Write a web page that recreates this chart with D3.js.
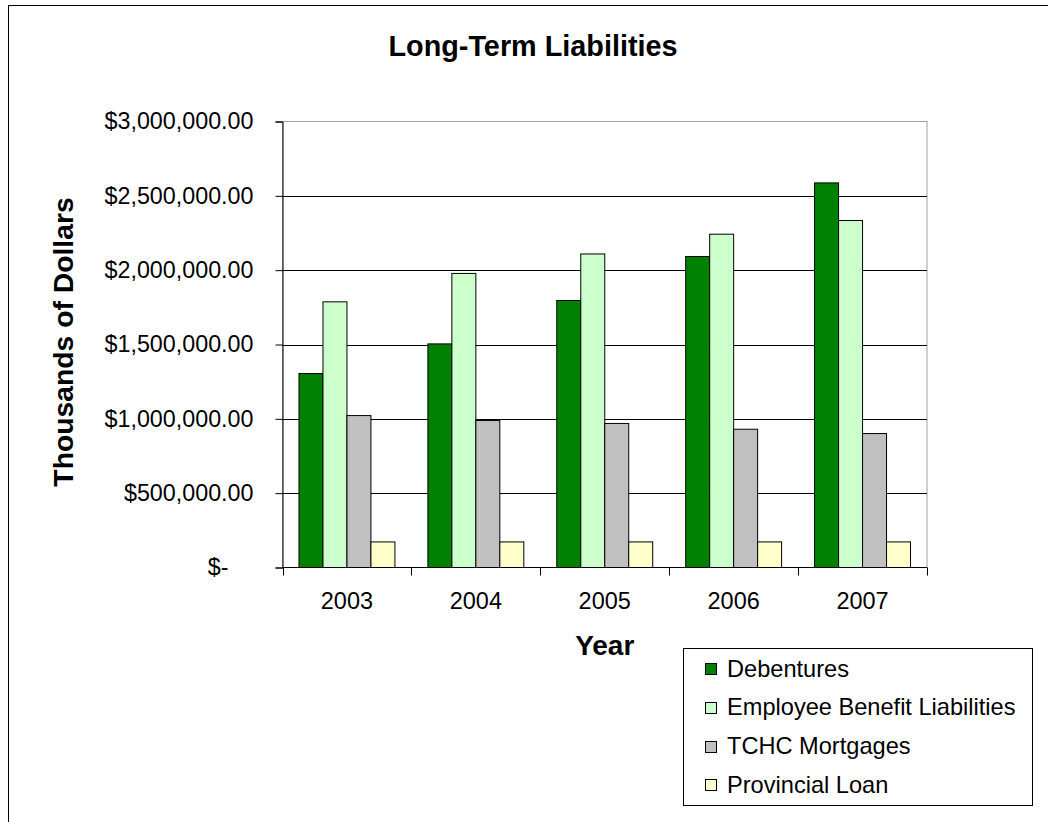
<!DOCTYPE html>
<html><head><meta charset="utf-8">
<script src="https://cdn.jsdelivr.net/npm/d3@7"></script>
<style>
html,body{margin:0;padding:0;background:#fff;}
svg{display:block;font-family:"Liberation Sans",Arial,sans-serif;}
</style></head>
<body>
<svg id="c" width="1048" height="822"></svg>
<script>
const years = ["2003","2004","2005","2006","2007"];
const seriesNames = ["Debentures","Employee Benefit Liabilities","TCHC Mortgages","Provincial Loan"];
const debentures = [1305000,1504000,1796000,2092000,2587000];
const employeeBenefit = [1787000,1978000,2109000,2242000,2334000];
const tchcMortgages = [1022000,989000,969000,930000,901000];
const provincialLoan = [172000,172000,172000,172000,172000];
const yTicks = [0,500000,1000000,1500000,2000000,2500000,3000000];
const colors = ["#008000","#CCFFCC","#C0C0C0","#FFFFCC"];

const seriesValues = [debentures, employeeBenefit, tchcMortgages, provincialLoan];
const svg = d3.select("#c");

// outer chart border
svg.append("rect").attr("x",8.5).attr("y",5.5).attr("width",1100).attr("height",900)
  .attr("fill","none").attr("stroke","#000").attr("stroke-width",1);

const L=282.5, R=927, T=121.5, B=567.5;
const x0 = d3.scaleBand().domain(years).range([L,R]).padding(0);
const x1 = d3.scaleBand().domain(seriesNames).range([0,x0.bandwidth()]).paddingInner(0).paddingOuter(0.6875);
const y = d3.scaleLinear().domain([0,3000000]).range([B,T]);

// plot area border (gray)
svg.append("rect").attr("x",L).attr("y",T).attr("width",R-L).attr("height",B-T)
  .attr("fill","#fff").attr("stroke","#a0a0a0").attr("stroke-width",1);

// gridlines
svg.append("g").selectAll("line").data(yTicks.filter(d=>d>0 && d<3000000)).join("line")
  .attr("x1",L).attr("x2",R).attr("y1",d=>Math.round(y(d))+0.5).attr("y2",d=>Math.round(y(d))+0.5)
  .attr("stroke","#000").attr("stroke-width",1);

// bars
const g = svg.append("g");
years.forEach((yr,i)=>{
  seriesNames.forEach((s,j)=>{
    const v = seriesValues[j][i];
    g.append("rect")
      .attr("x",x0(yr)+x1(s)).attr("width",x1.bandwidth())
      .attr("y",y(v)).attr("height",y(0)-y(v))
      .attr("fill",colors[j]).attr("stroke","#000").attr("stroke-width",1);
  });
});

// y axis
const fmt = d => d===0 ? "$-" : "$" + d3.format(",.2f")(d);
const yAxis = d3.axisLeft(y).tickValues(yTicks).tickFormat(fmt).tickSize(7).tickPadding(22);
const ya = svg.append("g").attr("transform",`translate(${L},0)`).call(yAxis);
ya.select(".domain").attr("stroke","#000");
ya.selectAll(".tick line").attr("stroke","#000");
ya.selectAll(".tick text").attr("font-size",23.3).attr("fill","#000")
  .attr("font-family","'Liberation Sans',Arial,sans-serif")
  .attr("dx",d=>d===0?-25:0);

// x axis
const xa = svg.append("g").attr("transform",`translate(0,${B})`);
xa.append("line").attr("x1",L).attr("x2",R).attr("y1",0).attr("y2",0).attr("stroke","#000");
const bounds = years.map(d=>x0(d)).concat([R]);
xa.selectAll("line.tk").data(bounds).join("line").attr("class","tk")
  .attr("x1",d=>Math.round(d)+0.5).attr("x2",d=>Math.round(d)+0.5).attr("y1",0).attr("y2",8).attr("stroke","#000");
xa.selectAll("text").data(years).join("text")
  .attr("x",d=>x0(d)+x0.bandwidth()/2).attr("y",41)
  .attr("text-anchor","middle").attr("font-size",23.5).text(d=>d);

// titles
svg.append("text").attr("x",533).attr("y",56).attr("text-anchor","middle")
  .attr("font-size",28.8).attr("font-weight","bold").text("Long-Term Liabilities");
svg.append("text").attr("transform","translate(73,342) rotate(-90)").attr("text-anchor","middle")
  .attr("font-size",28.3).attr("font-weight","bold").text("Thousands of Dollars");
svg.append("text").attr("x",(L+R)/2).attr("y",655).attr("text-anchor","middle")
  .attr("font-size",28).attr("font-weight","bold").text("Year");

// legend
const lg = svg.append("g");
lg.append("rect").attr("x",683.5).attr("y",648.5).attr("width",349).attr("height",157)
  .attr("fill","#fff").attr("stroke","#000").attr("stroke-width",1);
seriesNames.forEach((s,j)=>{
  const cy = 668 + j*38.8;
  lg.append("rect").attr("x",705.5).attr("y",Math.round(cy-5)+0.5).attr("width",11).attr("height",11)
    .attr("fill",colors[j]).attr("stroke","#000").attr("stroke-width",1);
  lg.append("text").attr("x",727).attr("y",cy+8.5).attr("font-size",23.6).text(s);
});
</script>
</body></html>
